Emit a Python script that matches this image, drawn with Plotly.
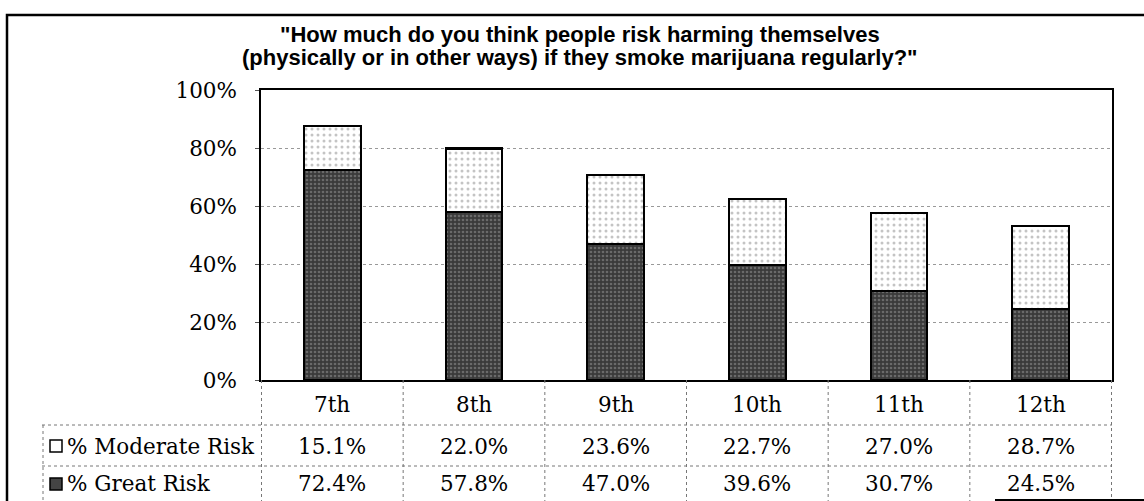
import plotly.graph_objects as go

grades = ["7th", "8th", "9th", "10th", "11th", "12th"]
moderate_risk = [15.1, 22.0, 23.6, 22.7, 27.0, 28.7]
great_risk = [72.4, 57.8, 47.0, 39.6, 30.7, 24.5]
series_names = ["% Moderate Risk", "% Great Risk"]
title_lines = ['"How much do you think people risk harming themselves',
               '(physically or in other ways) if they smoke marijuana regularly?"']

FIG_W, FIG_H = 1144, 501
L, R, T, B = 261, 1112, 90, 380
W, H = R - L, B - T


def px(x):
    return (x - L) / W


def py(y):
    return (B - y) / H


SERIF = "DejaVu Serif"
TSIZE = 21.5
fig = go.Figure()

fig.add_trace(go.Bar(
    x=grades, y=[v / 100 for v in great_risk], name=series_names[1],
    marker=dict(color="#4a4a4a", line=dict(color="black", width=2.2),
                pattern=dict(shape=".", bgcolor="#3a3a3a", fgcolor="#9a9a9a",
                             size=4, solidity=0.35)),
    showlegend=False,
))
fig.add_trace(go.Bar(
    x=grades, y=[v / 100 for v in moderate_risk], name=series_names[0],
    marker=dict(color="white", line=dict(color="black", width=2.2),
                pattern=dict(shape=".", bgcolor="white", fgcolor="#8a8a8a",
                             size=6, solidity=0.2)),
    showlegend=False,
))

shapes = []
# outer frame
shapes.append(dict(type="rect", xref="paper", yref="paper",
                   x0=px(7), x1=px(1160), y0=py(15), y1=py(520),
                   line=dict(color="black", width=2.5), layer="below"))
dot = dict(color="#777", width=1, dash="dot")
# table horizontal lines
for yy in [425, 466]:
    shapes.append(dict(type="line", xref="paper", yref="paper",
                       x0=px(42), x1=px(1112), y0=py(yy), y1=py(yy), line=dot))
# legend column left border
shapes.append(dict(type="line", xref="paper", yref="paper",
                   x0=px(43), x1=px(43), y0=py(425), y1=py(501), line=dot))
# column boundaries
for i in range(len(grades) + 1):
    shapes.append(dict(type="line", xref="x", yref="paper",
                       x0=i - 0.5, x1=i - 0.5, y0=py(380), y1=py(501), line=dot))
# bottom-right scan edge
shapes.append(dict(type="line", xref="paper", yref="paper",
                   x0=px(995), x1=px(1150), y0=py(500), y1=py(500),
                   line=dict(color="black", width=2)))
# legend keys
shapes.append(dict(type="rect", xref="paper", yref="paper",
                   x0=px(50), x1=px(62), y0=py(452), y1=py(440),
                   line=dict(color="black", width=1.5), fillcolor="white"))
shapes.append(dict(type="rect", xref="paper", yref="paper",
                   x0=px(50), x1=px(62), y0=py(490), y1=py(478),
                   line=dict(color="black", width=1.5), fillcolor="#444"))

annotations = []
for line, yy in zip(title_lines, [34, 57]):
    annotations.append(dict(xref="paper", yref="paper", x=px(580), y=py(yy),
                            text=f"<b>{line}</b>", showarrow=False,
                            font=dict(family="Liberation Sans", size=22, color="black"),
                            xanchor="center", yanchor="middle", align="center"))
for i, g in enumerate(grades):
    annotations.append(dict(xref="x", yref="paper", x=g, y=py(404), text=g,
                            showarrow=False, font=dict(family=SERIF, size=TSIZE, color="black"),
                            xanchor="center", yanchor="middle"))
    annotations.append(dict(xref="x", yref="paper", x=g, y=py(446),
                            text=f"{moderate_risk[i]:.1f}%", showarrow=False,
                            font=dict(family=SERIF, size=TSIZE, color="black"),
                            xanchor="center", yanchor="middle"))
    annotations.append(dict(xref="x", yref="paper", x=g, y=py(483),
                            text=f"{great_risk[i]:.1f}%", showarrow=False,
                            font=dict(family=SERIF, size=TSIZE, color="black"),
                            xanchor="center", yanchor="middle"))
for name, yy in zip(series_names, [446, 483]):
    annotations.append(dict(xref="paper", yref="paper", x=px(65), y=py(yy), text=name,
                            showarrow=False, font=dict(family=SERIF, size=TSIZE, color="black"),
                            xanchor="left", yanchor="middle"))

fig.update_layout(
    width=FIG_W, height=FIG_H,
    margin=dict(l=L, r=FIG_W - R, t=T, b=FIG_H - B, autoexpand=False),
    paper_bgcolor="white", plot_bgcolor="white",
    barmode="stack", bargap=0.6,
    shapes=shapes, annotations=annotations,
    xaxis=dict(showticklabels=False, showgrid=False, zeroline=False,
               showline=True, linecolor="black", linewidth=1.5, mirror=True,
               ticks=""),
    yaxis=dict(range=[0, 1], dtick=0.2, tickformat=".0%",
               showgrid=True, gridcolor="#999", griddash="dot", gridwidth=1,
               zeroline=False, showline=True, linecolor="black", linewidth=1.5,
               mirror=True, ticks="outside", ticklen=4, tickcolor="#555",
               tickfont=dict(family=SERIF, size=TSIZE, color="black"), ticklabelstandoff=14),
)

fig.write_html("out.html", config={"displayModeBar": False},
               post_script="document.body.style.margin='0';document.body.style.padding='0';")
